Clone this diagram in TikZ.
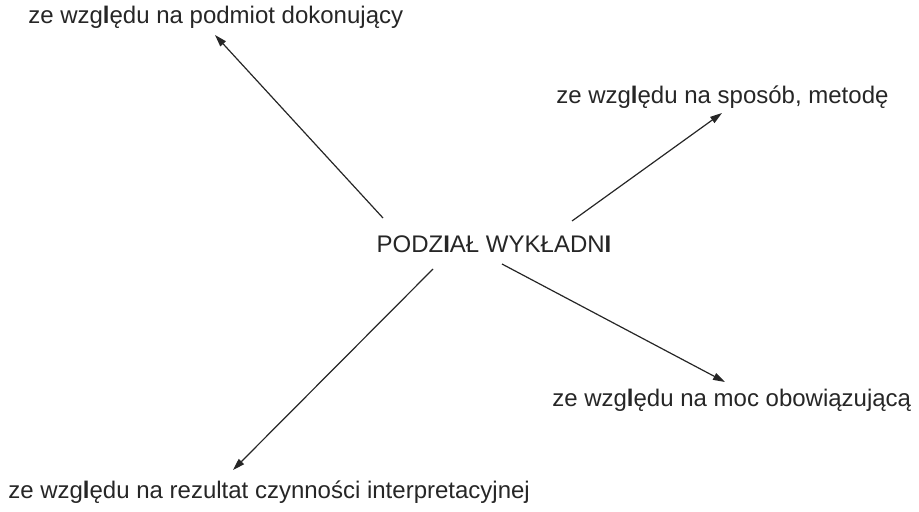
\documentclass[tikz,border=0pt]{standalone}
\usepackage{fontspec}
\setmainfont{Liberation Sans}
\usetikzlibrary{arrows.meta}
\newcommand{\bl}{{\bfseries l}}
\begin{document}
\begin{tikzpicture}[x=0.75pt,y=-0.75pt,
  lbl/.style={font=\fontsize{18}{21}\selectfont, inner sep=0pt, text=black!85},
  conn/.style={line width=0.9pt, draw=black!85, -{Triangle[length=9pt,width=5.5pt]}}]
\useasboundingbox (0,0) rectangle (919,511);
\node[lbl] (center) at (494,244) {PODZ\textbf{I}AŁ WYKŁADN\textbf{I}};
\node[lbl, anchor=west] (tl) at (28,17) {ze wzg\bl ędu na podmiot dokonujący};
\node[lbl, anchor=west] (tr) at (556,97) {ze wzg\bl ędu na sposób, metodę};
\node[lbl, anchor=west] (br) at (552,400) {ze wzg\bl ędu na moc obowiązującą};
\node[lbl, anchor=west] (bl) at (8,492) {ze wzg\bl ędu na rezultat czynności interpretacyjnej};
\coordinate (s1) at (383,218);
\coordinate (e1) at (215,35);
\coordinate (s2) at (572,221);
\coordinate (e2) at (722,113);
\coordinate (s3) at (502,264);
\coordinate (e3) at (725,382);
\coordinate (s4) at (433,269);
\coordinate (e4) at (233,470);
\draw[conn] (s1) -- (e1);
\draw[conn] (s2) -- (e2);
\draw[conn] (s3) -- (e3);
\draw[conn] (s4) -- (e4);
\end{tikzpicture}
\end{document}
